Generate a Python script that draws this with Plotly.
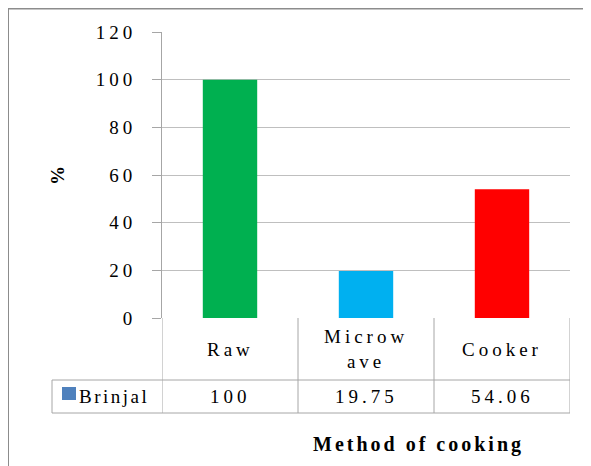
import plotly.graph_objects as go

categories = ["Raw", "Microwave", "Cooker"]
category_labels = ["Raw", "Microw<br>ave", "Cooker"]
brinjal = [100, 19.75, 54.06]
series_name = "Brinjal"
bar_colors = ["#00B050", "#00B0F0", "#FF0000"]
y_ticks = [0, 20, 40, 60, 80, 100, 120]
y_title = "%"
x_title = "Method of cooking"

# page has an 8px body margin; work in page pixel coordinates
OFF = 8
W, H = 591 - OFF, 466 - OFF
L, R, T, B = 162, 570, 32, 318  # page pixels
FONT = "Liberation Serif"
LS = 4


def px(x):
    return (x - L) / (R - L)


def py(y):
    return (B - y) / (B - T)


def sp(t, ls=LS):
    return f'<span style="letter-spacing:{ls}px">{t}</span>'


fig = go.Figure()
fig.add_trace(go.Bar(x=categories, y=brinjal, marker_color=bar_colors,
                     marker_line_width=0, width=0.4, name=series_name,
                     showlegend=False))

grid_c = "#BFBFBF"
line_c = "#A6A6A6"
frame_c = "#8C8C8C"

shapes = []
for yy in (380, 413):
    shapes.append(dict(type="line", xref="paper", yref="paper",
                       x0=px(52), x1=1, y0=py(yy), y1=py(yy),
                       line=dict(color=line_c, width=1)))
for i in range(len(categories) + 1):
    shapes.append(dict(type="line", xref="x", yref="paper",
                       x0=i - 0.5, x1=i - 0.5, y0=py(318), y1=py(413),
                       line=dict(color=line_c, width=1)))
shapes.append(dict(type="line", xref="paper", yref="paper",
                   x0=px(52), x1=px(52), y0=py(380), y1=py(413),
                   line=dict(color=line_c, width=1)))
shapes.append(dict(type="rect", xref="paper", yref="paper",
                   x0=px(62), x1=px(76), y0=py(400), y1=py(387),
                   fillcolor="#4F81BD", line=dict(width=0)))
# outer frame (left and top)
shapes.append(dict(type="line", xref="paper", yref="paper",
                   x0=px(8), x1=px(8), y0=py(8), y1=py(480),
                   line=dict(color=frame_c, width=2)))
shapes.append(dict(type="line", xref="paper", yref="paper",
                   x0=px(7), x1=px(600), y0=py(8.5), y1=py(8.5),
                   line=dict(color=frame_c, width=2)))

annotations = []
for cat, lab, v in zip(categories, category_labels, brinjal):
    annotations.append(dict(x=cat, xref="x", y=py(349), yref="paper",
                            text=sp(lab), showarrow=False, xanchor="center",
                            yanchor="middle",
                            font=dict(family=FONT, size=19, color="black")))
    annotations.append(dict(x=cat, xref="x", y=py(396), yref="paper",
                            text=sp(str(v)), showarrow=False, xanchor="center",
                            yanchor="middle",
                            font=dict(family=FONT, size=19, color="black")))
annotations.append(dict(x=px(77), xref="paper", y=py(396), yref="paper",
                        text=sp(series_name, 2.5), showarrow=False,
                        xanchor="left", yanchor="middle",
                        font=dict(family=FONT, size=19, color="black")))
annotations.append(dict(x=px(57), xref="paper", y=py(176), yref="paper",
                        text=f"<b>{y_title}</b>", showarrow=False,
                        textangle=-90, xanchor="center", yanchor="middle",
                        font=dict(family=FONT, size=19, color="black")))
annotations.append(dict(x=px(418), xref="paper", y=py(444), yref="paper",
                        text=f"<b>{sp(x_title, 3)}</b>", showarrow=False,
                        xanchor="center", yanchor="middle",
                        font=dict(family=FONT, size=20, color="black")))

fig.update_layout(
    width=W, height=H,
    font=dict(family=FONT, size=19, color="black"),
    margin=dict(l=L - OFF, r=591 - R, t=T - OFF, b=466 - B),
    paper_bgcolor="white", plot_bgcolor="white",
    showlegend=False,
    shapes=shapes, annotations=annotations,
    xaxis=dict(range=[-0.5, 2.5], showticklabels=False, showgrid=False,
               zeroline=False, ticks="", showline=False, fixedrange=True),
    yaxis=dict(range=[0, 120], tickvals=y_ticks,
               ticktext=[sp(t) for t in y_ticks],
               tickfont=dict(family=FONT, size=19, color="black"),
               showgrid=True, gridcolor=grid_c, gridwidth=1,
               zeroline=False, showline=True, linecolor=line_c, linewidth=1,
               ticks="outside", ticklen=9, tickcolor=line_c,
               ticklabelstandoff=12, fixedrange=True),
)

fig.write_html("out.html")
